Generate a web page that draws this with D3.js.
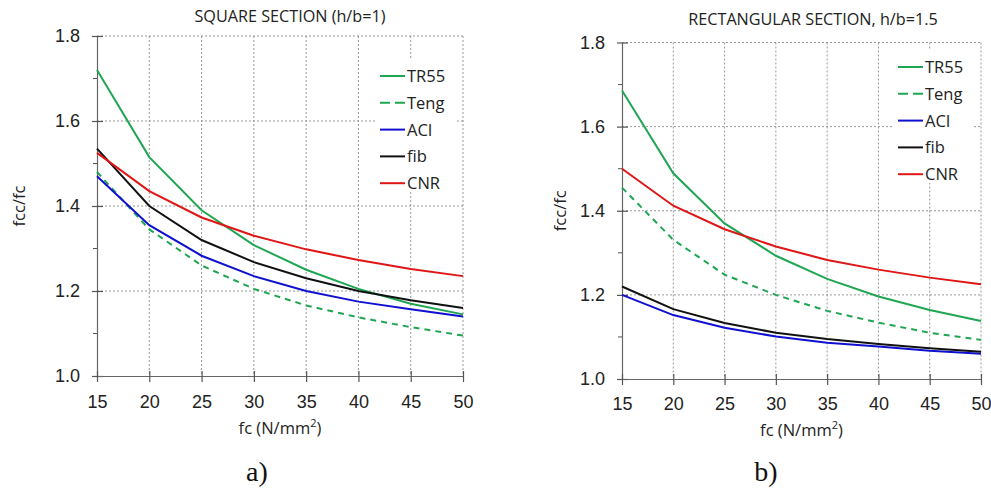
<!DOCTYPE html>
<html>
<head>
<meta charset="utf-8">
<script src="https://cdn.jsdelivr.net/npm/d3@7"></script>
<style>
  body { margin: 0; background: #fff; }
  svg { display: block; font-family: "Open Sans", sans-serif; }
  .grid line { stroke: #8c8c8c; stroke-width: 0.9; stroke-dasharray: 2,2; }
</style>
</head>
<body>
<svg id="chart" width="991" height="489"></svg>
<script>
const fcValues = [15, 20, 25, 30, 35, 40, 45, 50];
const yTicks = [1.0, 1.2, 1.4, 1.6, 1.8];
const yMinorTicks = [1.1, 1.3, 1.5, 1.7];
const seriesNames = ['TR55', 'Teng', 'ACI', 'fib', 'CNR'];

// square section, h/b = 1
const squareTR55 = [1.72, 1.515, 1.39, 1.308, 1.25, 1.205, 1.17, 1.145];
const squareTeng = [1.48, 1.345, 1.26, 1.205, 1.166, 1.138, 1.115, 1.095];
const squareACI  = [1.47, 1.355, 1.283, 1.235, 1.2, 1.175, 1.157, 1.14];
const squareFib  = [1.535, 1.40, 1.32, 1.268, 1.23, 1.2, 1.178, 1.16];
const squareCNR  = [1.525, 1.435, 1.373, 1.33, 1.298, 1.273, 1.252, 1.235];

// rectangular section, h/b = 1.5
const rectTR55 = [1.686, 1.489, 1.37, 1.293, 1.238, 1.196, 1.164, 1.138];
const rectTeng = [1.455, 1.331, 1.248, 1.2, 1.162, 1.134, 1.11, 1.093];
const rectACI  = [1.2, 1.152, 1.122, 1.101, 1.086, 1.077, 1.067, 1.06];
const rectFib  = [1.22, 1.166, 1.133, 1.11, 1.095, 1.083, 1.073, 1.065];
const rectCNR  = [1.5, 1.412, 1.356, 1.315, 1.283, 1.26, 1.241, 1.225];

const styles = {
  TR55: { color: '#1fa653', dash: null },
  Teng: { color: '#1fa653', dash: '6,5' },
  ACI:  { color: '#1010d0', dash: null },
  fib:  { color: '#111111', dash: null },
  CNR:  { color: '#e01515', dash: null }
};

const svg = d3.select('#chart');

function drawChart(opts) {
  const g = svg.append('g');
  const x = d3.scaleLinear().domain([15, 50]).range([opts.left, opts.right]);
  const y = d3.scaleLinear().domain([1.0, 1.8]).range([opts.bottom, opts.top]);

  // grid
  const grid = g.append('g').attr('class', 'grid');
  grid.selectAll('line.h').data(yTicks.slice(1)).join('line')
    .attr('x1', opts.left).attr('x2', opts.right)
    .attr('y1', d => y(d)).attr('y2', d => y(d));
  grid.selectAll('line.v').data(fcValues.slice(1)).join('line')
    .attr('class', 'v')
    .attr('x1', d => x(d)).attr('x2', d => x(d))
    .attr('y1', opts.top).attr('y2', opts.bottom);

  // y axis
  const yAxis = g.append('g').attr('transform', `translate(${opts.left},0)`)
    .call(d3.axisLeft(y).tickValues(yTicks).tickFormat(d3.format('.1f'))
      .tickSizeOuter(0).tickSizeInner(5).tickPadding(12));
  yAxis.select('.domain').attr('stroke', '#666').attr('stroke-width', 1.2);
  yAxis.selectAll('.tick line').attr('stroke', '#555').attr('x2', 6).attr('x1', -5).attr('stroke-width', 1.2);
  yAxis.selectAll('.tick text').attr('font-size', 18).attr('fill', '#222');
  g.append('g').selectAll('line').data(yMinorTicks).join('line')
    .attr('x1', opts.left - 4).attr('x2', opts.left)
    .attr('y1', d => y(d)).attr('y2', d => y(d))
    .attr('stroke', '#555').attr('stroke-width', 1);

  // x axis
  const xAxis = g.append('g').attr('transform', `translate(0,${opts.bottom})`)
    .call(d3.axisBottom(x).tickValues(fcValues).tickSizeOuter(0).tickSizeInner(6).tickPadding(opts.xPad));
  xAxis.select('.domain').attr('stroke', '#666').attr('stroke-width', 1.2);
  xAxis.selectAll('.tick line').attr('stroke', '#555').attr('y1', -5).attr('y2', 6).attr('stroke-width', 1.2);
  xAxis.selectAll('.tick text').attr('font-size', 18).attr('fill', '#222');

  // series
  const line = d3.line().x((d, i) => x(fcValues[i])).y(d => y(d));
  seriesNames.forEach(name => {
    g.append('path')
      .datum(opts.data[name])
      .attr('fill', 'none')
      .attr('stroke', styles[name].color)
      .attr('stroke-width', 2)
      .attr('stroke-dasharray', styles[name].dash)
      .attr('d', line);
  });

  // legend
  const lg = g.append('g').attr('transform', `translate(${opts.legendX},${opts.legendY})`);
  lg.append('rect').attr('x', -4).attr('y', -18).attr('width', 80).attr('height', 134).attr('fill', '#fff');
  seriesNames.forEach((name, i) => {
    const row = lg.append('g').attr('transform', `translate(0,${i * 26.8})`);
    row.append('line').attr('x1', 0).attr('x2', 25).attr('y1', 0).attr('y2', 0)
      .attr('stroke', styles[name].color).attr('stroke-width', 2)
      .attr('stroke-dasharray', styles[name].dash ? '10,5' : null);
    row.append('text').attr('x', 27).attr('y', 6).attr('font-size', 16.5).attr('fill', '#222').text(name);
  });

  // titles
  g.append('text').attr('x', opts.titleX).attr('y', opts.titleY).attr('text-anchor', 'middle')
    .attr('font-size', 16.2).attr('fill', '#222').text(opts.title);
  const xt = g.append('text').attr('x', (opts.left + opts.right) / 2).attr('y', opts.xTitleY)
    .attr('text-anchor', 'middle').attr('font-size', 16.5).attr('fill', '#222');
  xt.append('tspan').text('fc (N/mm');
  xt.append('tspan').attr('font-size', 11).attr('dy', -7).text('2');
  xt.append('tspan').attr('dy', 7).text(')');
  g.append('text').attr('transform', `translate(${opts.yTitleX},${(opts.top + opts.bottom) / 2}) rotate(-90)`)
    .attr('text-anchor', 'middle').attr('font-size', 16.5).attr('fill', '#222').text('fcc/fc');
  g.append('text').attr('x', opts.panelX).attr('y', 481).attr('text-anchor', 'middle')
    .attr('font-family', '"Liberation Serif", serif').attr('font-size', 28).attr('fill', '#111').text(opts.panel);
}

drawChart({
  left: 97, right: 463, top: 36, bottom: 376, xPad: 13, xTitleY: 434,
  title: 'SQUARE SECTION (h/b=1)', titleX: 290, titleY: 22,
  yTitleX: 25, legendX: 380, legendY: 76, panel: 'a)', panelX: 257,
  data: { TR55: squareTR55, Teng: squareTeng, ACI: squareACI, fib: squareFib, CNR: squareCNR }
});

drawChart({
  left: 622, right: 981, top: 42.5, bottom: 379, xPad: 12, xTitleY: 436,
  title: 'RECTANGULAR SECTION, h/b=1.5', titleX: 813, titleY: 24.5,
  yTitleX: 566, legendX: 898, legendY: 67, panel: 'b)', panelX: 766,
  data: { TR55: rectTR55, Teng: rectTeng, ACI: rectACI, fib: rectFib, CNR: rectCNR }
});
</script>
</body>
</html>
